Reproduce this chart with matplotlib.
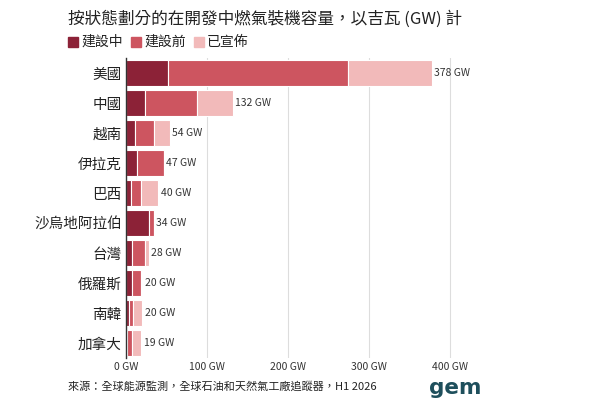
import numpy as np
import matplotlib.pyplot as plt

plt.rcParams['font.family'] = ['Noto Sans CJK TC', 'DejaVu Sans']

# ================= DATA =================
countries = ["美國", "中國", "越南", "伊拉克", "巴西", "沙烏地阿拉伯", "台灣", "俄羅斯", "南韓", "加拿大"]
construction = [52, 23, 11, 14, 6, 28, 8, 7, 4, 1]
pre_construction = [222, 65, 23, 33, 12, 6, 15, 12, 5, 6]
announced = [104, 44, 20, 0, 22, 0, 5, 1, 11, 12]
totals = [378, 132, 54, 47, 40, 34, 28, 20, 20, 19]
statuses = ["建設中", "建設前", "已宣佈"]
colors = ["#8c2237", "#cd5560", "#f2baba"]
xticks = [0, 100, 200, 300, 400]

narrow = ['Liberation Sans Narrow', 'Noto Sans CJK TC']

fig = plt.figure(figsize=(6, 4), dpi=100)
ax = fig.add_axes([0.21, 0.105, 0.58, 0.75])

y = np.arange(len(countries))
left = np.zeros(len(countries))
for vals, col, lab in zip([construction, pre_construction, announced], colors, statuses):
    ax.barh(y, vals, left=left, height=0.84, color=col, edgecolor="white",
            linewidth=0.8, label=lab, zorder=3)
    left += np.array(vals)

for yi, t in zip(y, totals):
    ax.text(t + 3, yi, f"{t} GW", va="center", ha="left", fontsize=7.5,
            color="#333333", family=narrow)

ax.set_ylim(len(countries) - 0.5, -0.5)
ax.set_xlim(0, 430)
ax.set_yticks(y)
ax.set_yticklabels(countries, fontsize=10.5, color="#222222")
ax.set_xticks(xticks)
ax.set_xticklabels([f"{v} GW" for v in xticks], fontsize=7.5, color="#333333", family=narrow)
ax.tick_params(axis="both", length=0, pad=3)
ax.grid(axis="x", color="#dddddd", linewidth=0.8, zorder=0)
for s in ["top", "right", "bottom"]:
    ax.spines[s].set_visible(False)
ax.spines["left"].set_color("#333333")
ax.spines["left"].set_linewidth(1.0)
ax.spines["left"].set_zorder(4)

fig.text(0.113, 0.952, "按狀態劃分的在開發中燃氣裝機容量，以吉瓦 (GW) 計",
         fontsize=12, color="#222222", va="center")

# legend squares
lx = 0.113
for col, lab in zip(colors, statuses):
    fig.patches.append(plt.Rectangle((lx, 0.883), 0.017, 0.025, color=col,
                                     transform=fig.transFigure, figure=fig))
    fig.text(lx + 0.022, 0.895, lab, fontsize=10, color="#222222", va="center")
    lx += 0.105

fig.text(0.113, 0.035, "來源：全球能源監測，全球石油和天然氣工廠追蹤器，H1 2026",
         fontsize=8, color="#222222", va="center")
fig.text(0.715, 0.03, "gem", fontsize=15.5, fontweight="bold", color="#1e4f5c",
         va="center", family=["DejaVu Sans"])

fig.savefig("out.png", dpi=100, facecolor="white")
